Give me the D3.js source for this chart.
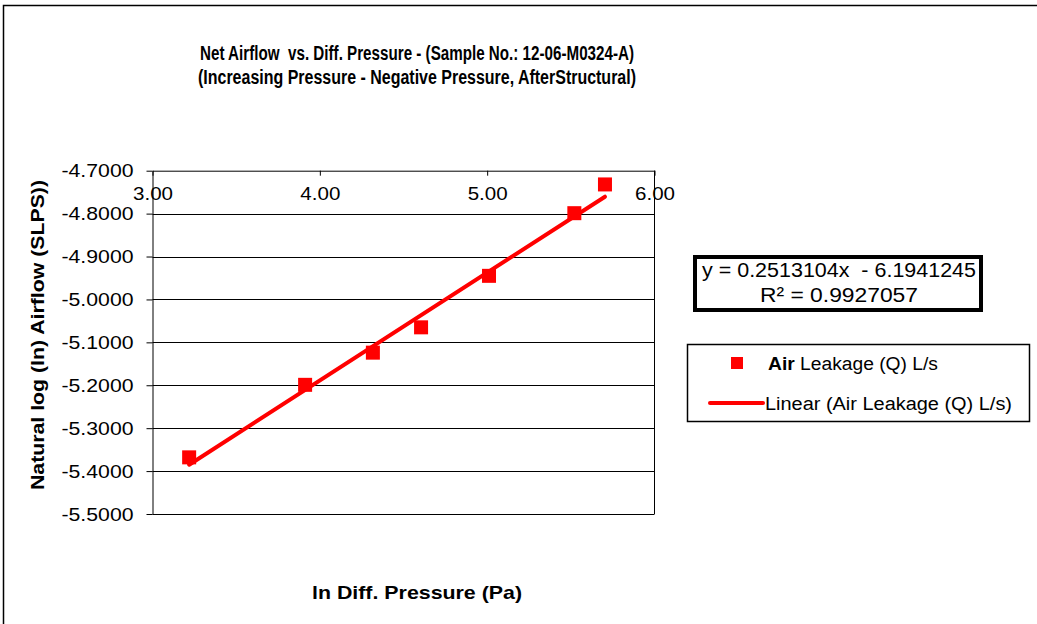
<!DOCTYPE html>
<html>
<head>
<meta charset="utf-8">
<script src="https://cdn.jsdelivr.net/npm/d3@7"></script>
<style>
  html, body { margin: 0; padding: 0; background: #fff; }
  svg { display: block; font-family: "Liberation Sans", Arial, sans-serif; }
  text { white-space: pre; }
</style>
</head>
<body>
<svg id="chart" width="1037" height="624"></svg>
<script>
// ---- data ----
const titleLines = [
  "Net Airflow  vs. Diff. Pressure - (Sample No.: 12-06-M0324-A)",
  "(Increasing Pressure - Negative Pressure, AfterStructural)"
];
const xLabel = "ln Diff. Pressure (Pa)";
const yLabel = "Natural log (ln) Airflow (SLPS))";
const xTicks = [3, 4, 5, 6];
const yTicks = [-4.7, -4.8, -4.9, -5.0, -5.1, -5.2, -5.3, -5.4, -5.5];
const lnPressure = [3.219, 3.912, 4.317, 4.605, 5.011, 5.521, 5.704];
const lnAirflow = [-5.368, -5.199, -5.124, -5.065, -4.945, -4.799, -4.732];
const trendSlope = 0.2513104;
const trendIntercept = -6.1941245;
const equationLines = ["y = 0.2513104x  - 6.1941245", "R\u00B2 = 0.9927057"];
const legendLabels = ["Air Leakage (Q) L/s", "Linear (Air Leakage (Q) L/s)"];

// ---- drawing ----
const svg = d3.select("#chart");
svg.append("rect").attr("width", 1037).attr("height", 624).attr("fill", "#fff");
// outer chart border (top + left visible)
svg.append("rect").attr("x", 3.5).attr("y", 5.5).attr("width", 1200).attr("height", 800)
  .attr("fill", "none").attr("stroke", "#000").attr("stroke-width", 1.5);

const x = d3.scaleLinear().domain([3, 6]).range([152.5, 654.5]);
const y = d3.scaleLinear().domain([-5.5, -4.7]).range([514, 170.7]);
const hyphen = f => v => f(v).replace("\u2212", "-");

// title
svg.append("g").selectAll("text").data(titleLines).join("text")
  .attr("x", 417).attr("y", (d, i) => 60 + i * 24)
  .attr("text-anchor", "middle").attr("font-weight", "bold").attr("font-size", 20)
  .attr("fill", "#000")
  .attr("textLength", (d, i) => i === 0 ? 434 : 438).attr("lengthAdjust", "spacingAndGlyphs")
  .text(d => d);

// gridlines
svg.append("g").selectAll("line").data(yTicks.filter(v => v !== -4.7)).join("line")
  .attr("x1", x(3)).attr("x2", x(6))
  .attr("y1", d => Math.round(y(d)) + 0.5).attr("y2", d => Math.round(y(d)) + 0.5)
  .attr("stroke", "#000").attr("stroke-width", 1);

// right plot border
svg.append("line").attr("x1", x(6)).attr("x2", x(6)).attr("y1", y(-4.7)).attr("y2", y(-5.5))
  .attr("stroke", "#000").attr("stroke-width", 1);

// y axis
const yAxis = svg.append("g").attr("transform", `translate(${x(3)},0)`)
  .call(d3.axisLeft(y).tickValues(yTicks).tickFormat(hyphen(d3.format(".4f")))
    .tickSize(6).tickSizeOuter(0).tickPadding(13));
yAxis.selectAll("text").attr("font-size", 19).attr("font-family", "Liberation Sans, Arial, sans-serif")
  .attr("fill", "#000").attr("textLength", 72).attr("lengthAdjust", "spacingAndGlyphs");
yAxis.selectAll("path, line").attr("stroke", "#000");

// x axis along the top (crosses at -4.7)
const xAxis = svg.append("g").attr("transform", `translate(0,${y(-4.7)})`)
  .call(d3.axisBottom(x).tickValues(xTicks).tickFormat(d3.format(".2f"))
    .tickSize(5).tickSizeOuter(0).tickPadding(11));
xAxis.selectAll("text").attr("font-size", 19).attr("font-family", "Liberation Sans, Arial, sans-serif")
  .attr("fill", "#000").attr("textLength", 40).attr("lengthAdjust", "spacingAndGlyphs");
xAxis.selectAll("path, line").attr("stroke", "#000");

// axis titles
svg.append("text").attr("x", 417).attr("y", 599).attr("text-anchor", "middle")
  .attr("font-weight", "bold").attr("font-size", 19).attr("fill", "#000")
  .attr("textLength", 210).attr("lengthAdjust", "spacingAndGlyphs").text(xLabel);
svg.append("text").attr("transform", "translate(44,335) rotate(-90)").attr("text-anchor", "middle")
  .attr("font-weight", "bold").attr("font-size", 19).attr("fill", "#000")
  .attr("textLength", 310).attr("lengthAdjust", "spacingAndGlyphs").text(yLabel);

// trendline
const xMin = d3.min(lnPressure), xMax = d3.max(lnPressure);
svg.append("line")
  .attr("x1", x(xMin)).attr("y1", y(trendSlope * xMin + trendIntercept))
  .attr("x2", x(xMax)).attr("y2", y(trendSlope * xMax + trendIntercept))
  .attr("stroke", "#ff0000").attr("stroke-width", 4).attr("stroke-linecap", "round");

// markers
const pts = lnPressure.map((v, i) => [v, lnAirflow[i]]);
svg.append("g").selectAll("rect").data(pts).join("rect")
  .attr("x", d => x(d[0]) - 7).attr("y", d => y(d[1]) - 7)
  .attr("width", 14).attr("height", 14).attr("fill", "#ff0000");

// equation box
svg.append("rect").attr("x", 695).attr("y", 257).attr("width", 286).attr("height", 53)
  .attr("fill", "#fff").attr("stroke", "#000").attr("stroke-width", 4);
svg.append("g").selectAll("text").data(equationLines).join("text")
  .attr("x", 839).attr("y", (d, i) => 277 + i * 25).attr("text-anchor", "middle")
  .attr("font-size", 20).attr("fill", "#000")
  .attr("textLength", (d, i) => i === 0 ? 274 : 158).attr("lengthAdjust", "spacingAndGlyphs")
  .text(d => d);

// legend
svg.append("rect").attr("x", 687.5).attr("y", 344.5).attr("width", 342).attr("height", 77)
  .attr("fill", "#fff").attr("stroke", "#000").attr("stroke-width", 1.5);
svg.append("rect").attr("x", 731).attr("y", 357).attr("width", 12).attr("height", 12).attr("fill", "#ff0000");
svg.append("line").attr("x1", 710).attr("x2", 763).attr("y1", 403).attr("y2", 403)
  .attr("stroke", "#ff0000").attr("stroke-width", 4).attr("stroke-linecap", "round");
const lt1 = svg.append("text").attr("x", 768).attr("y", 369.5).attr("font-size", 18).attr("fill", "#000")
  .attr("textLength", 170).attr("lengthAdjust", "spacingAndGlyphs");
lt1.append("tspan").attr("font-weight", "bold").text("Air");
lt1.append("tspan").text(legendLabels[0].slice(3));
svg.append("text").attr("x", 765).attr("y", 409.5).attr("font-size", 18).attr("fill", "#000")
  .attr("textLength", 247).attr("lengthAdjust", "spacingAndGlyphs").text(legendLabels[1]);
</script>
</body>
</html>
